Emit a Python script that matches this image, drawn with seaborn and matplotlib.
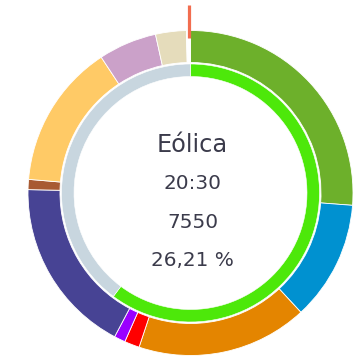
import matplotlib
matplotlib.use("Agg")
import matplotlib.pyplot as plt
import seaborn as sns

sns.set_theme(style="white")
plt.rcParams["font.family"] = ["DejaVu Sans"]

# Generation mix at 20:30 (MW), outer ring
categories = ["Eólica", "Hidráulica", "Solar fotovoltaica", "Solar térmica",
              "Otras renovables", "Nuclear", "Carbón", "Ciclo combinado",
              "Cogeneración", "Residuos", "Otros"]
values = [7550, 3430, 4900, 430, 320, 5070, 290, 4150, 1670, 880, 116]
colors = ["#6db02b", "#0091d0", "#e48500", "#ff0000", "#9a00ff", "#474394",
          "#a85a32", "#ffca66", "#cba1c9", "#e5dcbb", "#ffffff"]

# Inner ring: renewable vs non-renewable share
inner_labels = ["Renovable", "No renovable"]
inner_values = [17341, 11465]
inner_colors = ["#4de80a", "#c8d6df"]

highlight = "Eólica"
hour = "20:30"

total = sum(values)
hv = values[categories.index(highlight)]
pct = f"{hv / total * 100:.2f}".replace(".", ",") + " %"

W, H = 359, 361
fig = plt.figure(figsize=(W / 100, H / 100), dpi=100)
ax = fig.add_axes([0, 0, 1, 1])
ax.set_xlim(0, W)
ax.set_ylim(0, H)
ax.set_aspect("equal")
ax.axis("off")

cx, cy = 190.5, H - 193

ax.pie(values, colors=colors, startangle=90, counterclock=False,
       radius=162.5, center=(cx, cy),
       wedgeprops=dict(width=32, edgecolor="white", linewidth=0.6))
ax.pie(inner_values, colors=inner_colors, startangle=90, counterclock=False,
       radius=129, center=(cx, cy),
       wedgeprops=dict(width=12.5, edgecolor="white", linewidth=0.4))
ax.set_xlim(0, W)
ax.set_ylim(0, H)

# Marker at the start of the ring
ax.plot([cx - 1.5, cx - 1.5], [H - 38, H - 5], color="#f26d4f", lw=2.3,
        solid_capstyle="butt")

txt = "#3b3b4b"
tx = 192.5
ax.text(tx, H - 152.5, highlight, ha="center", va="baseline", fontsize=17.3, color=txt)
ax.text(tx, H - 189, hour, ha="center", va="baseline", fontsize=14.4, color=txt)
ax.text(tx, H - 227.5, f"{hv}", ha="center", va="baseline", fontsize=14.4, color=txt)
ax.text(tx, H - 266, pct, ha="center", va="baseline", fontsize=14.4, color=txt)

fig.savefig("out.png", dpi=100, facecolor="white")
